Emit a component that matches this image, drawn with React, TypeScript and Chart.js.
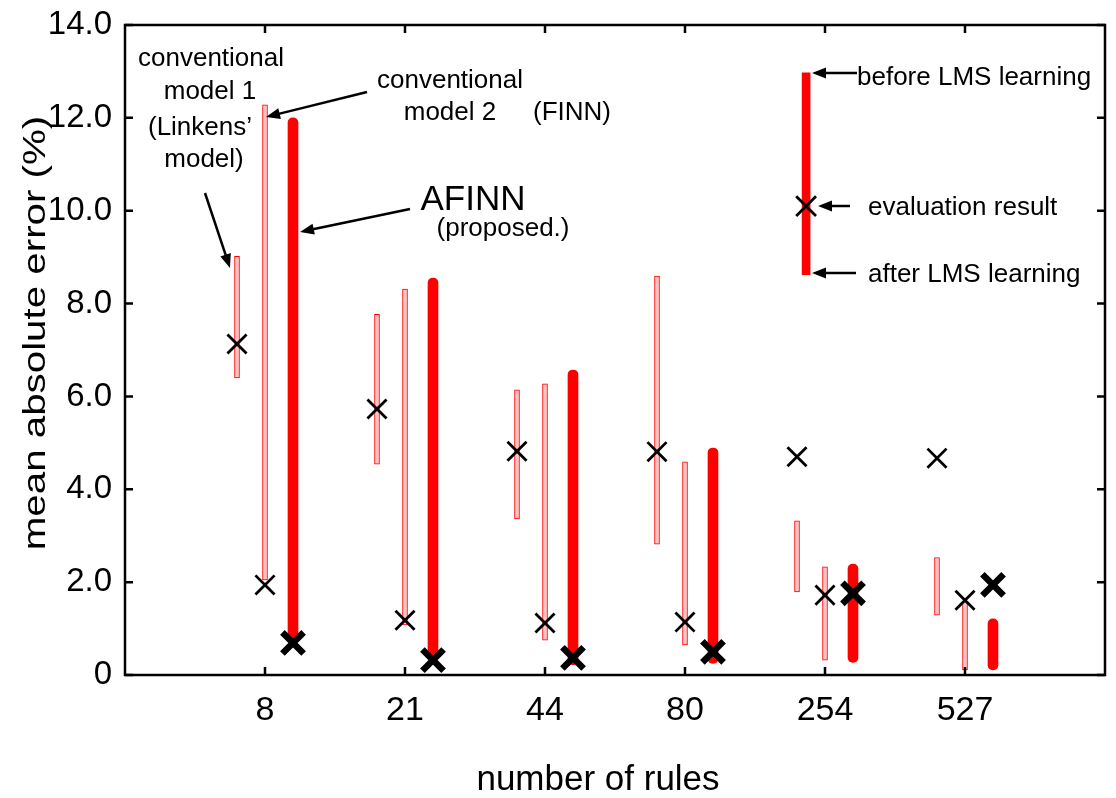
import React, { useEffect, useRef } from "react";
import { Chart, registerables } from "chart.js";

Chart.register(...registerables);

// ---------- data ----------
const categories = ["8", "21", "44", "80", "254", "527"];
const categoryPos = [1, 2, 3, 4, 5, 6];
const yTickValues = [0, 2, 4, 6, 8, 10, 12, 14];

// conventional model 1 (Linkens' model)
const model1Low = [6.4, 4.54, 3.36, 2.82, 1.79, 1.29];
const model1High = [9.02, 7.77, 6.14, 8.59, 3.32, 2.53];
const model1Eval = [7.13, 5.73, 4.82, 4.81, 4.7, 4.67];

// conventional model 2 (FINN)
const model2Low = [2.05, 1.08, 0.75, 0.65, 0.32, 0.11];
const model2High = [12.28, 8.31, 6.27, 4.59, 2.33, 1.58];
const model2Eval = [1.94, 1.18, 1.12, 1.14, 1.72, 1.61];

// AFINN (proposed)
const afinnLow = [0.75, 0.32, 0.22, 0.25, 0.27, 0.11];
const afinnHigh = [12.0, 8.55, 6.57, 4.89, 2.39, 1.21];
const afinnEval = [0.69, 0.32, 0.37, 0.5, 1.76, 1.94];

// legend key sample (before / after LMS learning, evaluation result)
const keyRange = [8.62, 12.97];
const keyEval = [10.1];

// ---------- layout constants ----------
const FONT = "'Liberation Sans', Arial, Helvetica, sans-serif";
const OFF1 = -0.2;
const OFF3 = 0.2;
const KEY_X = 4.865;

const texts = [
  { t: "conventional", x: 211, y: 66, size: 26, align: "center" },
  { t: "model 1", x: 210, y: 99, size: 26, align: "center" },
  { t: "(Linkens\u2019", x: 200, y: 135, size: 26, align: "center" },
  { t: "model)", x: 204, y: 167, size: 26, align: "center" },
  { t: "conventional", x: 450, y: 88, size: 26, align: "center" },
  { t: "model 2", x: 450, y: 120, size: 26, align: "center" },
  { t: "(FINN)", x: 572, y: 120, size: 26, align: "center" },
  { t: "AFINN", x: 473, y: 210, size: 35, align: "center" },
  { t: "(proposed.)", x: 503, y: 236, size: 26, align: "center" },
  { t: "before LMS learning", x: 857, y: 85, size: 26, align: "left" },
  { t: "evaluation result", x: 868, y: 215, size: 26, align: "left" },
  { t: "after LMS learning", x: 868, y: 282, size: 26, align: "left" },
];

const arrows = [
  [205, 193, 230, 268],
  [367, 92, 266, 117],
  [410, 209, 300, 232],
  [857, 73, 812, 73],
  [850, 206, 818, 206],
  [856, 273, 812, 273],
];

function drawArrow(ctx: CanvasRenderingContext2D, x1: number, y1: number, x2: number, y2: number) {
  const ang = Math.atan2(y2 - y1, x2 - x1);
  const hl = 14;
  const hw = 5.5;
  const bx = x2 - hl * Math.cos(ang);
  const by = y2 - hl * Math.sin(ang);
  ctx.beginPath();
  ctx.moveTo(x1, y1);
  ctx.lineTo(bx + 2 * Math.cos(ang), by + 2 * Math.sin(ang));
  ctx.stroke();
  ctx.beginPath();
  ctx.moveTo(x2, y2);
  ctx.lineTo(bx + hw * Math.sin(ang), by - hw * Math.cos(ang));
  ctx.lineTo(bx - hw * Math.sin(ang), by + hw * Math.cos(ang));
  ctx.closePath();
  ctx.fill();
}

const framePlugin = {
  id: "framePlugin",
  afterDraw(chart: any) {
    const ctx: CanvasRenderingContext2D = chart.ctx;
    const { left, right, top, bottom } = chart.chartArea;
    const xs = chart.scales.x;
    const ys = chart.scales.y;
    ctx.save();
    ctx.strokeStyle = "#000";
    ctx.fillStyle = "#000";
    ctx.lineWidth = 2.5;
    ctx.lineCap = "butt";
    ctx.strokeRect(left, top, right - left, bottom - top);
    const tl = 8;
    ctx.beginPath();
    yTickValues.forEach((v) => {
      const y = ys.getPixelForValue(v);
      ctx.moveTo(left, y);
      ctx.lineTo(left + tl, y);
      ctx.moveTo(right, y);
      ctx.lineTo(right - tl, y);
    });
    categoryPos.forEach((p) => {
      const x = xs.getPixelForValue(p);
      ctx.moveTo(x, bottom);
      ctx.lineTo(x, bottom - tl);
      ctx.moveTo(x, top);
      ctx.lineTo(x, top + tl);
    });
    ctx.stroke();

    // annotations
    ctx.lineWidth = 2.5;
    arrows.forEach((a) => drawArrow(ctx, a[0], a[1], a[2], a[3]));
    ctx.textBaseline = "alphabetic";
    texts.forEach((t) => {
      ctx.font = `${t.size}px ${FONT}`;
      ctx.textAlign = t.align as CanvasTextAlign;
      ctx.fillText(t.t, t.x, t.y);
    });

    // axis titles
    ctx.font = `35px ${FONT}`;
    ctx.textAlign = "center";
    ctx.fillText("number of rules", 598, 790);

    ctx.save();
    ctx.translate(45, 333);
    ctx.rotate(-Math.PI / 2);
    ctx.scale(1.3, 1);
    ctx.font = `31px ${FONT}`;
    ctx.textAlign = "center";
    ctx.fillText("mean absolute error (%)", 0, 0);
    ctx.restore();

    ctx.restore();
  },
};

export default function App() {
  const ref = useRef<HTMLCanvasElement | null>(null);

  useEffect(() => {
    if (!ref.current) return;
    const thin = (low: number[], high: number[], off: number) =>
      categoryPos.map((p, i) => ({ x: p + off, y: [low[i], high[i]] }));
    const pts = (vals: number[], off: number) => categoryPos.map((p, i) => ({ x: p + off, y: vals[i] }));

    const thinStyle = {
      type: "bar" as const,
      backgroundColor: "#ffc4c4",
      borderColor: "#ff0000",
      borderWidth: 1,
      borderSkipped: false,
      barThickness: 5,
      grouped: false,
      order: 2,
    };

    const chart = new Chart(ref.current, {
      type: "bar",
      data: {
        datasets: [
          { ...thinStyle, label: "conventional model 1", data: thin(model1Low, model1High, OFF1) as any },
          { ...thinStyle, label: "conventional model 2", data: thin(model2Low, model2High, 0) as any },
          {
            type: "bar",
            label: "AFINN",
            data: thin(afinnLow, afinnHigh, OFF3) as any,
            backgroundColor: "#ff0000",
            borderWidth: 0,
            borderSkipped: false,
            borderRadius: 5,
            barThickness: 10,
            grouped: false,
            order: 2,
          },
          {
            type: "bar",
            label: "key",
            data: [{ x: KEY_X, y: keyRange }] as any,
            backgroundColor: "#ff0000",
            borderWidth: 0,
            borderSkipped: false,
            barThickness: 8,
            grouped: false,
            order: 2,
          },
          {
            type: "scatter",
            label: "model 1 eval",
            data: pts(model1Eval, OFF1) as any,
            pointStyle: "crossRot",
            pointRadius: 13.5,
            borderColor: "#000",
            borderWidth: 2.8,
            order: 0,
          },
          {
            type: "scatter",
            label: "model 2 eval",
            data: pts(model2Eval, 0) as any,
            pointStyle: "crossRot",
            pointRadius: 13.5,
            borderColor: "#000",
            borderWidth: 2.8,
            order: 0,
          },
          {
            type: "scatter",
            label: "AFINN eval",
            data: pts(afinnEval, OFF3) as any,
            pointStyle: "crossRot",
            pointRadius: 15,
            borderColor: "#000",
            borderWidth: 6.5,
            order: 0,
          },
          {
            type: "scatter",
            label: "key eval",
            data: keyEval.map((v) => ({ x: KEY_X, y: v })) as any,
            pointStyle: "crossRot",
            pointRadius: 14,
            borderColor: "#000",
            borderWidth: 2.8,
            order: 0,
          },
        ] as any,
      },
      options: {
        animation: false,
        responsive: false,
        devicePixelRatio: 1,
        events: [],
        layout: { autoPadding: false, padding: { top: 25, right: 11, left: 0, bottom: 0 } },
        plugins: { legend: { display: false }, tooltip: { enabled: false } },
        scales: {
          x: {
            type: "linear",
            min: 0,
            max: 7,
            offset: false,
            grid: { display: false, drawTicks: false, offset: false },
            border: { display: false },
            afterBuildTicks: (s: any) => {
              s.ticks = categoryPos.map((v) => ({ value: v }));
            },
            afterFit: (s: any) => {
              s.height = 123;
              s.paddingLeft = 0;
              s.paddingRight = 0;
            },
            ticks: {
              autoSkip: false,
              maxRotation: 0,
              minRotation: 0,
              padding: 15,
              color: "#000",
              font: { family: FONT, size: 34 },
              callback: (v: any) => categories[categoryPos.indexOf(Number(v))] ?? "",
            },
          },
          y: {
            type: "linear",
            min: 0,
            max: 14,
            grid: { display: false, drawTicks: false },
            border: { display: false },
            afterFit: (s: any) => {
              s.width = 125;
              s.paddingTop = 0;
              s.paddingBottom = 0;
            },
            ticks: {
              stepSize: 2,
              padding: 13,
              color: "#000",
              font: { family: FONT, size: 33 },
              callback: (v: any) => (Number(v) === 0 ? "0" : Number(v).toFixed(1)),
            },
          },
        },
      } as any,
      plugins: [framePlugin],
    });
    return () => chart.destroy();
  }, []);

  return (
    <div style={{ position: "fixed", left: 0, top: 0, width: 1116, height: 798, background: "#fff" }}>
      <canvas ref={ref} width={1116} height={798} style={{ display: "block" }} />
    </div>
  );
}
